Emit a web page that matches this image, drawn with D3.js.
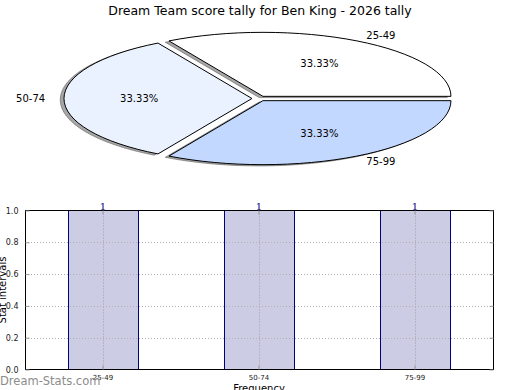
<!DOCTYPE html>
<html>
<head>
<meta charset="utf-8">
<script src="https://cdn.jsdelivr.net/npm/d3@7/dist/d3.min.js"></script>
<style>
  body { margin: 0; background: #fff; }
  svg { display: block; font-family: "DejaVu Sans", sans-serif; }
</style>
</head>
<body>
<div id="chart"></div>
<script>
// data
var categories = ["25-49", "50-74", "75-99"];
var counts = [1, 1, 1];
var sliceColors = ["#ffffff", "#ebf2ff", "#c3d8ff"];
var yTicks = [0, 0.2, 0.4, 0.6, 0.8, 1.0];

var width = 520, height = 390;
var svg = d3.select("#chart").append("svg")
    .attr("width", width)
    .attr("height", height);

// title
svg.append("text")
    .attr("x", 260).attr("y", 15)
    .attr("text-anchor", "middle")
    .style("font-size", "12.5px")
    .text("Dream Team score tally for Ben King - 2026 tally");

// ---- pie (squashed ellipse, matplotlib style) ----
var cx = 259.3, cy = 98.5, rx = 188, ry = 64, explode = 0.039;

// counterclockwise from 3 o'clock
var pie = d3.pie().sort(null)
    .startAngle(Math.PI / 2)
    .endAngle(Math.PI / 2 - 2 * Math.PI)
    .value(function(d) { return d; });
var arcs = pie(counts);
var arc = d3.arc().innerRadius(0).outerRadius(1);
var total = d3.sum(counts);

function offset(d, r) {
    var mid = (d.startAngle + d.endAngle) / 2;
    return [Math.sin(mid) * r, -Math.cos(mid) * r];
}

var pieG = svg.append("g")
    .attr("transform", "translate(" + cx + "," + cy + ")");

// shadows first
pieG.selectAll(".shadow")
    .data(arcs)
    .enter().append("path")
    .attr("class", "shadow")
    .attr("d", arc)
    .attr("transform", function(d) {
        var o = offset(d, explode);
        return "translate(" + (o[0] * rx - 0.02 * rx) + "," + (o[1] * ry + 0.02 * ry) + ") scale(" + rx + "," + ry + ")";
    })
    .attr("fill", "#4d4d4d")
    .attr("fill-opacity", 0.5)
    .attr("stroke", "#4d4d4d")
    .attr("stroke-opacity", 0.5)
    .attr("stroke-width", 1)
    .attr("vector-effect", "non-scaling-stroke");

pieG.selectAll(".slice")
    .data(arcs)
    .enter().append("path")
    .attr("class", "slice")
    .attr("d", arc)
    .attr("transform", function(d) {
        var o = offset(d, explode);
        return "translate(" + (o[0] * rx) + "," + (o[1] * ry) + ") scale(" + rx + "," + ry + ")";
    })
    .attr("fill", function(d, i) { return sliceColors[i]; })
    .attr("stroke", "#000")
    .attr("stroke-width", 1)
    .attr("vector-effect", "non-scaling-stroke");

// outer labels
pieG.selectAll(".plabel")
    .data(arcs)
    .enter().append("text")
    .attr("class", "plabel")
    .attr("x", function(d) { var o = offset(d, explode), l = offset(d, 1.1); return (o[0] + l[0]) * rx; })
    .attr("y", function(d) { var o = offset(d, explode), l = offset(d, 1.1); return (o[1] + l[1]) * ry; })
    .attr("dy", "0.35em")
    .attr("text-anchor", function(d) { return offset(d, 1)[0] > 0 ? "start" : "end"; })
    .style("font-size", "10px")
    .text(function(d, i) { return categories[i]; });

// percentages
pieG.selectAll(".pct")
    .data(arcs)
    .enter().append("text")
    .attr("class", "pct")
    .attr("x", function(d) { var o = offset(d, explode), l = offset(d, 0.6); return (o[0] + l[0]) * rx; })
    .attr("y", function(d) { var o = offset(d, explode), l = offset(d, 0.6); return (o[1] + l[1]) * ry; })
    .attr("dy", "0.35em")
    .attr("text-anchor", "middle")
    .style("font-size", "10px")
    .text(function(d) { return (d.value / total * 100).toFixed(2) + "%"; });

// ---- bar chart ----
var plotLeft = 25, plotRight = 493, plotTop = 210.5, plotBottom = 369.5;

var x = d3.scaleBand()
    .domain(categories)
    .range([plotLeft, plotRight])
    .paddingInner(1 - 70 / 156)
    .paddingOuter((1 - 70 / 156) / 2);

var y = d3.scaleLinear().domain([0, 1]).range([plotBottom, plotTop]);

// bars
svg.selectAll(".bar")
    .data(counts)
    .enter().append("rect")
    .attr("class", "bar")
    .attr("x", function(d, i) { return Math.round(x(categories[i])) + 0.5; })
    .attr("y", function(d) { return y(d); })
    .attr("width", x.bandwidth())
    .attr("height", function(d) { return y(0) - y(d); })
    .attr("fill", "#ccccE5")
    .attr("stroke", "#000080")
    .attr("stroke-width", 1);

// dotted grid, drawn over the bars
var grid = svg.append("g").attr("class", "grid");
grid.selectAll(".hg")
    .data(yTicks.slice(1, -1))
    .enter().append("line")
    .attr("class", "hg")
    .attr("x1", plotLeft).attr("x2", plotRight)
    .attr("y1", function(d) { return Math.round(y(d)) + 0.5; })
    .attr("y2", function(d) { return Math.round(y(d)) + 0.5; })
    .attr("stroke", "#b0b0b0")
    .attr("stroke-dasharray", "1,2");

grid.selectAll(".vg")
    .data(categories)
    .enter().append("line")
    .attr("class", "vg")
    .attr("x1", function(d) { return Math.round(x(d) + x.bandwidth() / 2) + 0.5; })
    .attr("x2", function(d) { return Math.round(x(d) + x.bandwidth() / 2) + 0.5; })
    .attr("y1", plotTop).attr("y2", plotBottom)
    .attr("stroke", "#a0a0a0")
    .attr("stroke-dasharray", "1,2");

// frame
svg.append("rect")
    .attr("x", plotLeft + 0.5).attr("y", plotTop)
    .attr("width", plotRight - plotLeft).attr("height", plotBottom - plotTop)
    .attr("fill", "none")
    .attr("stroke", "#000")
    .attr("stroke-width", 1);

// y axis ticks (inward, both sides)
var yAxisL = d3.axisLeft(y).tickValues(yTicks).tickSize(-4).tickPadding(7)
    .tickFormat(d3.format(".1f"));
var gyl = svg.append("g")
    .attr("transform", "translate(" + (plotLeft + 0.5) + ",0)")
    .call(yAxisL);
gyl.select(".domain").remove();
gyl.selectAll("line").attr("stroke", "#999");
gyl.selectAll("text").style("font-size", "8px").style("font-family", "DejaVu Sans").attr("fill", "#222");

var yAxisR = d3.axisRight(y).tickValues(yTicks).tickSize(-4).tickFormat("");
var gyr = svg.append("g")
    .attr("transform", "translate(" + (plotRight + 0.5) + ",0)")
    .call(yAxisR);
gyr.select(".domain").remove();
gyr.selectAll("line").attr("stroke", "#999");

// x axis ticks
var xAxis = d3.axisBottom(x).tickSize(-4).tickPadding(6);
var gx = svg.append("g")
    .attr("transform", "translate(0," + plotBottom + ")")
    .call(xAxis);
gx.select(".domain").remove();
gx.selectAll("line").attr("stroke", "#999");
gx.selectAll("text").style("font-size", "7px").style("font-family", "DejaVu Sans").attr("fill", "#222");

var xAxisT = d3.axisTop(x).tickSize(-4).tickFormat("");
var gxt = svg.append("g")
    .attr("transform", "translate(0," + plotTop + ")")
    .call(xAxisT);
gxt.select(".domain").remove();
gxt.selectAll("line").attr("stroke", "#999");

// value labels above bars
svg.selectAll(".vlabel")
    .data(counts)
    .enter().append("text")
    .attr("class", "vlabel")
    .attr("x", function(d, i) { return x(categories[i]) + x.bandwidth() / 2; })
    .attr("y", function(d) { return y(d) - 1; })
    .attr("text-anchor", "middle")
    .attr("fill", "#000080")
    .style("font-family", "DejaVu Serif, serif")
    .style("font-size", "10px")
    .text(function(d) { return d; });

// axis titles
svg.append("text")
    .attr("transform", "translate(6," + ((plotTop + plotBottom) / 2) + ") rotate(-90)")
    .attr("text-anchor", "middle")
    .style("font-size", "10px")
    .text("Stat intervals");

svg.append("text")
    .attr("x", (plotLeft + plotRight) / 2).attr("y", 392)
    .attr("text-anchor", "middle")
    .style("font-size", "10px")
    .text("Frequency");

// watermark
svg.append("text")
    .attr("x", 0).attr("y", 385)
    .attr("fill", "#8c8c8c")
    .style("font-size", "11.5px")
    .text("Dream-Stats.com");
</script>
</body>
</html>
